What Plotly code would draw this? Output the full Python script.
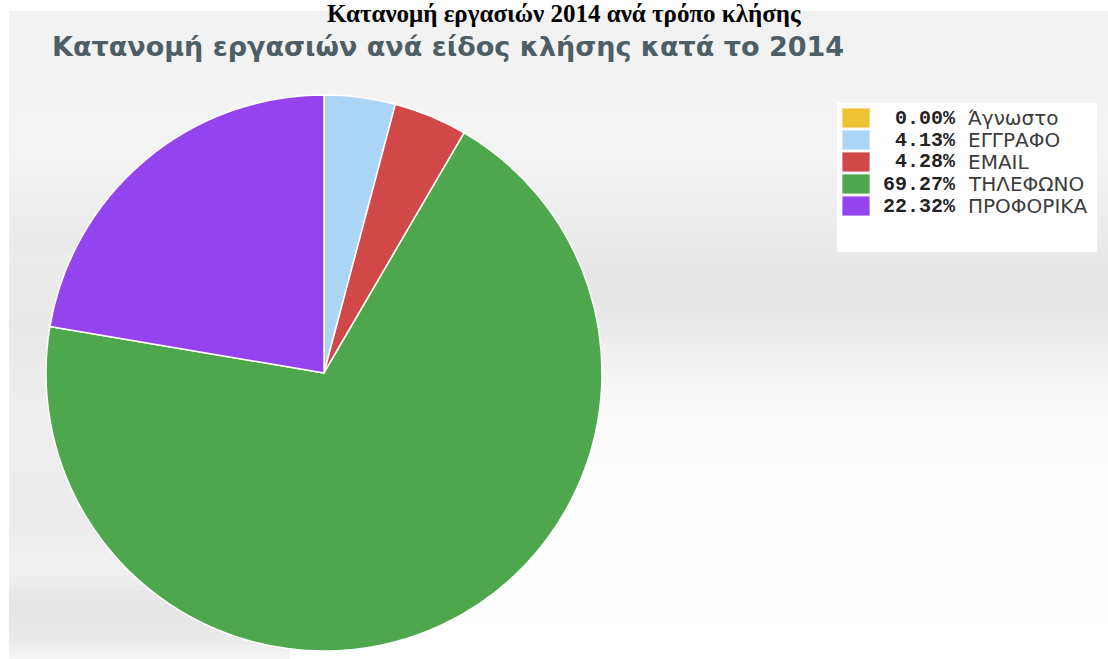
import plotly.graph_objects as go

# ---- data ----
labels = ["Άγνωστο", "ΕΓΓΡΑΦΟ", "EMAIL", "ΤΗΛΕΦΩΝΟ", "ΠΡΟΦΟΡΙΚΑ"]
values = [0.00, 4.13, 4.28, 69.27, 22.32]
colors = ["#efc135", "#acd4f4", "#d14848", "#4ea74d", "#9444ee"]
title_top = "Κατανομή εργασιών 2014 ανά τρόπο κλήσης"
title_sub = "Κατανομή εργασιών ανά είδος κλήσης κατά το 2014"

W, H = 1108, 659


def px(x):
    return x / W


def py(y):
    return 1 - y / H


def hexmix(c1, c2, t):
    a = [int(c1[i:i + 2], 16) for i in (1, 3, 5)]
    b = [int(c2[i:i + 2], 16) for i in (1, 3, 5)]
    return "#" + "".join(f"{round(a[k] + (b[k] - a[k]) * t):02x}" for k in range(3))


def grad(stops, y):
    for (y0, c0), (y1, c1) in zip(stops, stops[1:]):
        if y0 <= y <= y1:
            return hexmix(c0, c1, (y - y0) / (y1 - y0) if y1 > y0 else 0)
    return stops[-1][1]


shapes = []
# background photo-like gradient
main_stops = [(11, "#f2f2f2"), (150, "#f4f4f4"), (230, "#ececec"), (290, "#e5e5e5"),
              (340, "#ededed"), (420, "#fcfcfc"), (659, "#ffffff")]
left_stops = [(250, "#ececec"), (330, "#e9e9e9"), (420, "#efefef"), (520, "#ececec"),
              (570, "#f1f1f1"), (605, "#e5e5e5"), (640, "#eaeaea"), (659, "#f6f6f6")]
step = 5
for y in range(11, H, step):
    shapes.append(dict(type="rect", xref="paper", yref="paper", x0=px(9), x1=px(W),
                       y0=py(min(y + step, H)), y1=py(y), fillcolor=grad(main_stops, y + step / 2),
                       line_width=0, layer="below"))
for y in range(250, H, step):
    shapes.append(dict(type="rect", xref="paper", yref="paper", x0=px(9), x1=px(290),
                       y0=py(min(y + step, H)), y1=py(y), fillcolor=grad(left_stops, y + step / 2),
                       line_width=0, layer="below"))

# legend box
shapes.append(dict(type="rect", xref="paper", yref="paper", x0=px(837), x1=px(1097),
                   y0=py(252), y1=py(103), fillcolor="#ffffff", line_width=0, layer="below"))

annotations = []
row0, dy = 118, 22
for i, (lab, val, col) in enumerate(zip(labels, values, colors)):
    yc = row0 + i * dy
    shapes.append(dict(type="rect", xref="paper", yref="paper", x0=px(842), x1=px(870),
                       y0=py(yc + 10), y1=py(yc - 10), fillcolor=col,
                       line=dict(color="rgba(255,255,255,0.55)", width=1.5)))
    annotations.append(dict(xref="paper", yref="paper", x=px(958), y=py(yc), xanchor="right",
                            yanchor="middle", showarrow=False, text=f"<b>{val:.2f}%</b>",
                            font=dict(family="Liberation Mono", size=20, color="#222222")))
    annotations.append(dict(xref="paper", yref="paper", x=px(966), y=py(yc), xanchor="left",
                            yanchor="middle", showarrow=False, text=lab,
                            font=dict(family="DejaVu Sans", size=20, color="#3c3c3c")))

annotations.append(dict(xref="paper", yref="paper", x=px(564), y=py(-2), xanchor="center",
                        yanchor="top", showarrow=False, text=f"<b>{title_top}</b>",
                        font=dict(family="Liberation Serif", size=25, color="#000000")))
annotations.append(dict(xref="paper", yref="paper", x=px(50), y=py(46), xanchor="left",
                        yanchor="middle", showarrow=False, text=f"<b>{title_sub}</b>",
                        font=dict(family="DejaVu Sans", size=27, color="#4e5e65")))

fig = go.Figure(go.Pie(
    labels=labels, values=values, sort=False, direction="clockwise", rotation=0,
    marker=dict(colors=colors, line=dict(color="#ffffff", width=1.5)),
    textinfo="none", hoverinfo="label+percent", showlegend=False,
    domain=dict(x=[px(46), px(602)], y=[py(651), py(95)]),
))
fig.update_layout(width=W, height=H, margin=dict(l=0, r=0, t=0, b=0),
                  paper_bgcolor="#ffffff", plot_bgcolor="#ffffff",
                  shapes=shapes, annotations=annotations, showlegend=False)
fig.write_html("out.html")
